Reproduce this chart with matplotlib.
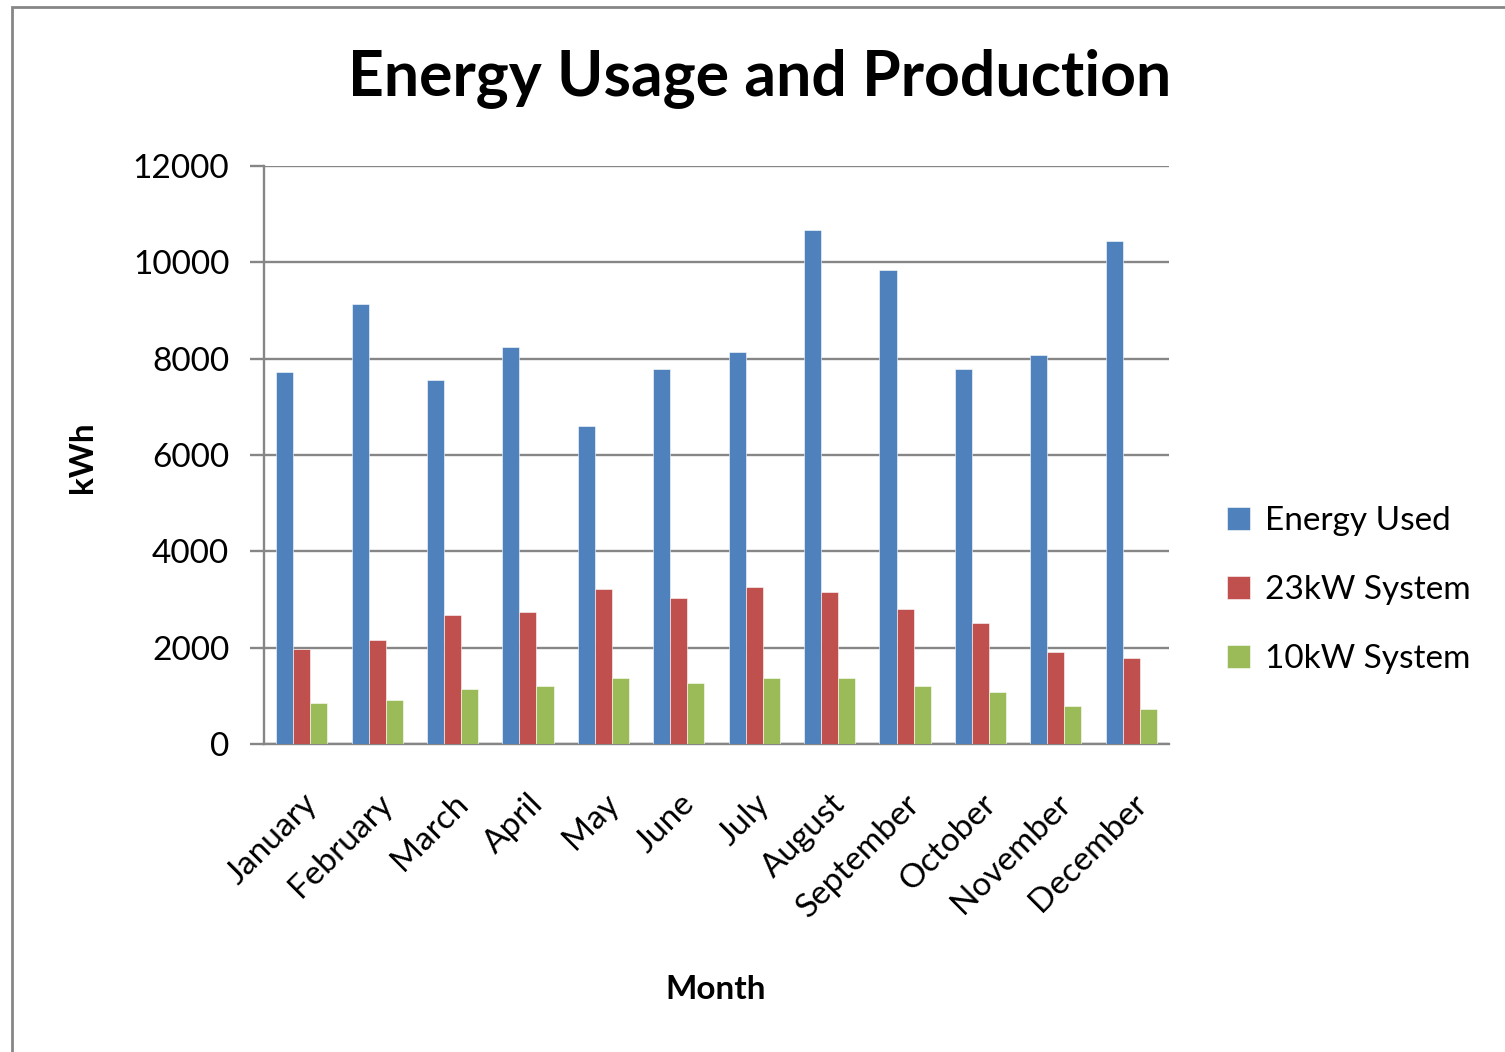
import matplotlib
matplotlib.use("Agg")
import matplotlib.pyplot as plt
import matplotlib.patches as patches
import numpy as np

plt.rcParams['font.family'] = ['Lato', 'DejaVu Sans']

months = ["January", "February", "March", "April", "May", "June",
          "July", "August", "September", "October", "November", "December"]
energy_used = [7730, 9140, 7550, 8250, 6610, 7780, 8140, 10680, 9850, 7790, 8080, 10440]
system_23kw = [1970, 2150, 2680, 2740, 3210, 3030, 3265, 3150, 2800, 2510, 1910, 1790]
system_10kw = [845, 905, 1140, 1200, 1375, 1260, 1380, 1380, 1200, 1085, 790, 730]
series_names = ["Energy Used", "23kW System", "10kW System"]
series_colors = ["#4F81BD", "#C0504D", "#9BBB59"]
yticks = [0, 2000, 4000, 6000, 8000, 10000, 12000]

grey = "#868686"
W, H = 1505, 1052

fig = plt.figure(figsize=(W / 100, H / 100), dpi=100)
ax = fig.add_axes([264 / W, 1 - 744 / H, 905 / W, 578 / H])

x = np.arange(len(months))
w = 0.226
for i, (vals, name, col) in enumerate(zip([energy_used, system_23kw, system_10kw],
                                          series_names, series_colors)):
    ax.bar(x + (i - 1) * w, vals, width=w, color=col, label=name,
           edgecolor="white", linewidth=0.4, zorder=3)

ax.set_xlim(-0.5, len(months) - 0.5)
ax.set_ylim(0, 12000)
ax.set_yticks(yticks)
ax.set_yticklabels([str(v) for v in yticks], fontsize=24)
ax.yaxis.grid(True, color=grey, linewidth=1.7, zorder=0)
ax.set_axisbelow(True)

ax.set_xticks(x)
ax.set_xticklabels(months, rotation=45, ha="right", rotation_mode="anchor", fontsize=24)
ax.tick_params(axis="x", length=0, pad=32)
ax.tick_params(axis="y", length=10, width=1.7, color=grey, pad=15)

for s in ["top", "right"]:
    ax.spines[s].set_visible(False)
for s in ["left", "bottom"]:
    ax.spines[s].set_color(grey)
    ax.spines[s].set_linewidth(1.7)

ax.set_ylabel("kWh", fontsize=24, fontweight="bold")
ax.set_xlabel("Month", fontsize=24, fontweight="bold")
ax.xaxis.set_label_coords((716 - 264) / 905, -(975 - 744) / 578)
ax.yaxis.set_label_coords(-(264 - 97) / 905, (744 - 457) / 578)

fig.text(760 / W, 1 - 78 / H, "Energy Usage and Production", fontsize=45,
         fontweight="bold", ha="center", va="center")

leg = ax.legend(loc="center left", bbox_to_anchor=(1197 / W, 1 - 590 / H),
                bbox_transform=fig.transFigure, frameon=False, fontsize=24,
                handlelength=0.7, handleheight=0.7, labelspacing=1.17,
                handletextpad=0.45)

# chart area border
fig.add_artist(patches.Rectangle((12 / W, -0.05), 1.0, 1.05 - 7 / H,
                                 transform=fig.transFigure, fill=False,
                                 edgecolor=grey, linewidth=2))

fig.savefig("out.png", dpi=100)
